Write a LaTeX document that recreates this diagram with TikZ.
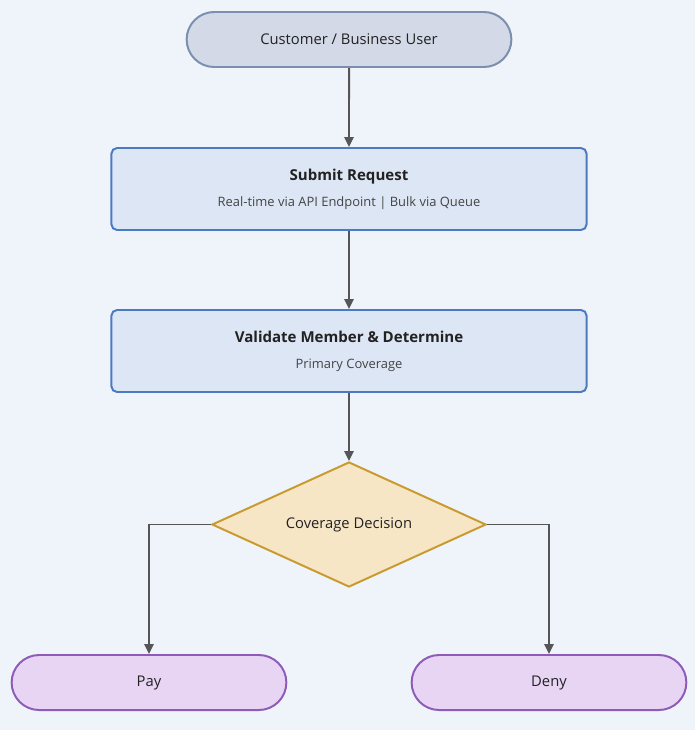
\documentclass[tikz,border=0pt]{standalone}
\usepackage{fontspec}
\setmainfont{Open Sans}
\usetikzlibrary{shapes.geometric,shapes.misc,arrows.meta}
\definecolor{bgcol}{HTML}{EFF3FA}
\definecolor{usrfill}{HTML}{D3D9E6}
\definecolor{usrline}{HTML}{7B8FAE}
\definecolor{stepfill}{HTML}{DDE6F4}
\definecolor{stepline}{HTML}{4A7BC1}
\definecolor{decfill}{HTML}{F6E6C6}
\definecolor{decline}{HTML}{C99A2E}
\definecolor{endfill}{HTML}{E8D5F4}
\definecolor{endline}{HTML}{8E5BB8}
\definecolor{arrcol}{HTML}{555555}
\definecolor{txtcol}{HTML}{222222}
\definecolor{subcol}{HTML}{444444}
\tikzset{
  flowarrow/.style={draw=arrcol, line width=1.4pt, -{Triangle[length=7pt,width=6.5pt]}},
  userbox/.style={rounded rectangle, draw=usrline, fill=usrfill, line width=1.4pt,
    minimum width=8.35cm, minimum height=1.375cm, text=txtcol, font=\fontsize{10.5}{12}\selectfont},
  stepbox/.style={rectangle, rounded corners=4pt, draw=stepline, fill=stepfill, line width=1.4pt,
    minimum width=11.875cm, minimum height=2.05cm, text=txtcol, align=center},
  decbox/.style={diamond, aspect=2.19, draw=decline, fill=decfill, line width=1.4pt,
    inner sep=0pt, minimum width=6.85cm, minimum height=3.125cm, text=txtcol, font=\fontsize{10.5}{12}\selectfont},
  endbox/.style={rounded rectangle, draw=endline, fill=endfill, line width=1.4pt,
    minimum width=7.1cm, minimum height=1.375cm, text=txtcol, font=\fontsize{10.5}{12}\selectfont},
}
\newcommand{\steptitle}[1]{{\fontsize{10.7}{13}\selectfont\bfseries #1}}
\newcommand{\stepsub}[1]{{\fontsize{9.2}{11}\selectfont\color{subcol}#1}}
\begin{document}
\begin{tikzpicture}[x=0.025cm,y=-0.025cm]
	\fill[bgcol] (0,0) rectangle (695,730);
	\useasboundingbox (0,0) rectangle (695,730);
	% nodes
	\node[userbox] (user) at (349,39.5) {Customer / Business User};
	\node[stepbox] (submit) at (349,189) {\steptitle{Submit Request}\\[6.5pt]\stepsub{Real-time via API Endpoint | Bulk via Queue}};
	\node[stepbox] (validate) at (349,351) {\steptitle{Validate Member \& Determine}\\[6.5pt]\stepsub{Primary Coverage}};
	\node[decbox] (decision) at (349,524.5) {Coverage Decision};
	\node[endbox] (pay) at (149,682.5) {Pay};
	\node[endbox] (deny) at (549,682.5) {Deny};
	% connectors
	\draw[flowarrow] (user) -- (submit);
	\draw[flowarrow] (submit) -- (validate);
	\draw[flowarrow] (validate) -- (decision);
	\draw[flowarrow] (decision.west) -| (pay.north);
	\draw[flowarrow] (decision.east) -| (deny.north);
\end{tikzpicture}
\end{document}
